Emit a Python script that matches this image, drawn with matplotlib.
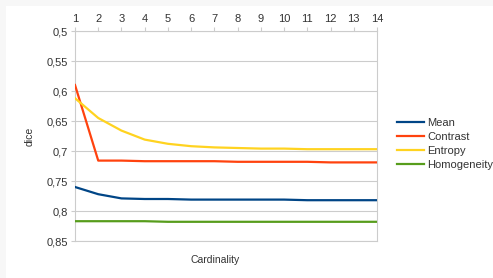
import matplotlib
matplotlib.use("Agg")
import matplotlib.pyplot as plt
from matplotlib.patches import Rectangle
from matplotlib.ticker import FuncFormatter

# ── Data ──────────────────────────────────────────────────────────────────────
cardinality = list(range(1, 15))
mean        = [0.760, 0.772, 0.779, 0.780, 0.780, 0.781, 0.781, 0.781, 0.781, 0.781, 0.782, 0.782, 0.782, 0.782]
contrast    = [0.590, 0.716, 0.716, 0.717, 0.717, 0.717, 0.717, 0.718, 0.718, 0.718, 0.718, 0.719, 0.719, 0.719]
entropy     = [0.612, 0.645, 0.666, 0.681, 0.688, 0.692, 0.694, 0.695, 0.696, 0.696, 0.697, 0.697, 0.697, 0.697]
homogeneity = [0.817, 0.817, 0.817, 0.817, 0.818, 0.818, 0.818, 0.818, 0.818, 0.818, 0.818, 0.818, 0.818, 0.818]
yticks = [0.5, 0.55, 0.6, 0.65, 0.7, 0.75, 0.8, 0.85]

COLORS = {"Mean": "#004586", "Contrast": "#ff420e", "Entropy": "#ffd320", "Homogeneity": "#579d1c"}
GRID = "#cccccc"

plt.rcParams["font.family"] = ["Liberation Sans", "DejaVu Sans"]
fig = plt.figure(figsize=(4.93, 2.78), dpi=100, facecolor="#f7f7f7")
fig.patches.append(Rectangle((6 / 493, 0), 1 - 6 / 493, 1 - 6 / 278, transform=fig.transFigure,
                             facecolor="white", edgecolor="none", zorder=-10))

ax = fig.add_axes([75 / 493, 1 - 241 / 278, 302 / 493, 210 / 278])
for name, vals in [("Mean", mean), ("Contrast", contrast), ("Entropy", entropy), ("Homogeneity", homogeneity)]:
    ax.plot(cardinality, vals, color=COLORS[name], lw=1.6, label=name, zorder=3)

ax.set_xlim(1, 14)
ax.set_ylim(0.85, 0.5)
ax.set_yticks(yticks)
ax.yaxis.set_major_formatter(FuncFormatter(lambda v, _: f"{v:g}".replace(".", ",")))
ax.set_xticks(cardinality)
ax.xaxis.tick_top()
ax.tick_params(axis="both", labelsize=8, colors=GRID, labelcolor="#333333", length=3, width=0.8, pad=2)
ax.grid(axis="y", color=GRID, lw=0.8)
for sp in ax.spines.values():
    sp.set_color(GRID)
    sp.set_linewidth(0.8)

fig.text(215 / 493, 1 - 260 / 278, "Cardinality", ha="center", va="center", fontsize=7.5, color="#333333")
fig.text(30 / 493, 1 - 136 / 278, "dice", ha="center", va="center", rotation=90, fontsize=7.5, color="#333333")

ax.legend(loc="center left", bbox_to_anchor=(393 / 493, 1 - 144 / 278), bbox_transform=fig.transFigure,
          frameon=False, fontsize=8, handlelength=2.4, handletextpad=0.3, labelspacing=0.35,
          borderaxespad=0, labelcolor="#333333")

fig.savefig("out.png", dpi=100, facecolor=fig.get_facecolor())
